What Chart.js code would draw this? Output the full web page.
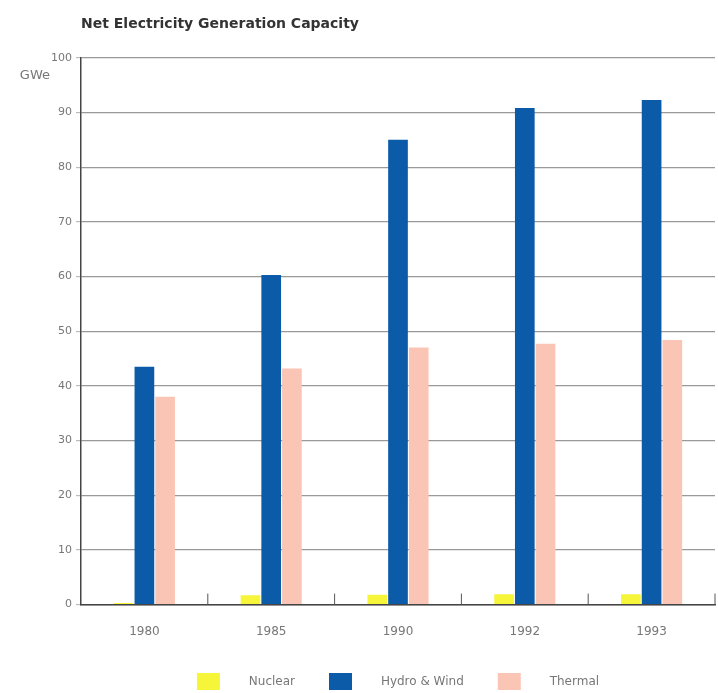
<!DOCTYPE html>
<html>
<head>
<meta charset="utf-8">
<script src="https://cdn.jsdelivr.net/npm/chart.js@4"></script>
<style>
  html, body { margin: 0; padding: 0; background: #fff; }
  #wrap { width: 718px; height: 693px; }
</style>
</head>
<body>
<div id="wrap"><canvas id="grafico"></canvas></div>
<script>
// dados do gráfico
const anos = ['1980', '1985', '1990', '1992', '1993'];
const nuclear = [0.3, 1.7, 1.8, 1.9, 1.9];
const hidroVento = [43.5, 60.3, 85.0, 90.8, 92.3];
const termica = [38.0, 43.2, 47.0, 47.7, 48.4];
const ticksY = [0, 10, 20, 30, 40, 50, 60, 70, 80, 90, 100];

const fonte = '"DejaVu Sans", sans-serif';

// marcas curtas no eixo x entre as categorias + unidade "GWe"
const extras = {
    id: 'extras',
    afterDraw(chart) {
        const ctx = chart.ctx;
        const x = chart.scales.x;
        const y = chart.scales.y;
        const base = y.getPixelForValue(0);
        ctx.save();
        ctx.strokeStyle = '#555';
        ctx.lineWidth = 1;
        for (let i = 0; i < anos.length; i++) {
            const meio = (x.getPixelForValue(i) + x.getPixelForValue(i + 1)) / 2;
            ctx.beginPath();
            ctx.moveTo(meio, base);
            ctx.lineTo(meio, base - 11);
            ctx.stroke();
        }
        ctx.fillStyle = '#777';
        ctx.font = '13px ' + fonte;
        ctx.textAlign = 'right';
        ctx.textBaseline = 'middle';
        ctx.fillText('GWe', y.right - 31, y.getPixelForValue(96.7));
        ctx.restore();
    }
};

new Chart(document.getElementById('grafico'), {
    type: 'bar',
    data: {
        labels: anos,
        datasets: [
            { label: 'Nuclear', data: nuclear, backgroundColor: '#f6f53a' },
            { label: 'Hydro & Wind', data: hidroVento, backgroundColor: '#0b5ba9' },
            { label: 'Thermal', data: termica, backgroundColor: '#fbc5b5' }
        ]
    },
    options: {
        responsive: true,
        maintainAspectRatio: false,
        animation: false,
        categoryPercentage: 0.49,
        barPercentage: 0.95,
        layout: { padding: { top: 6, right: 3, left: 0, bottom: -7 } },
        scales: {
            x: {
                grid: { display: false, drawTicks: false },
                border: { color: '#444', width: 1.5 },
                afterFit: s => { s.height -= 20; },
                ticks: { color: '#777', font: { family: fonte, size: 12 }, padding: 20 }
            },
            y: {
                min: 0,
                max: 100,
                afterBuildTicks: s => { s.ticks = ticksY.map(v => ({ value: v })); },
                afterFit: s => { s.width = 81; },
                grid: { color: '#999', lineWidth: 1.2, tickLength: 5, tickColor: '#bbb' },
                border: { color: '#444', width: 1.5 },
                ticks: { color: '#777', font: { family: fonte, size: 11 }, padding: 4 }
            }
        },
        plugins: {
            title: {
                display: true,
                text: 'Net Electricity Generation Capacity',
                align: 'start',
                fullSize: false,
                color: '#333',
                font: { family: fonte, size: 14, weight: 'bold' },
                padding: { top: 10, bottom: 25 }
            },
            legend: {
                position: 'bottom',
                fullSize: false,
                labels: {
                    color: '#777',
                    font: { family: fonte, size: 12 },
                    boxWidth: 23,
                    boxHeight: 17,
                    padding: 34,
                    generateLabels(chart) {
                        const itens = Chart.defaults.plugins.legend.labels.generateLabels(chart);
                        itens.forEach(it => { it.text = '      ' + it.text; it.lineWidth = 0; });
                        return itens;
                    }
                }
            },
            tooltip: { enabled: false }
        }
    },
    plugins: [extras]
});
</script>
</body>
</html>
